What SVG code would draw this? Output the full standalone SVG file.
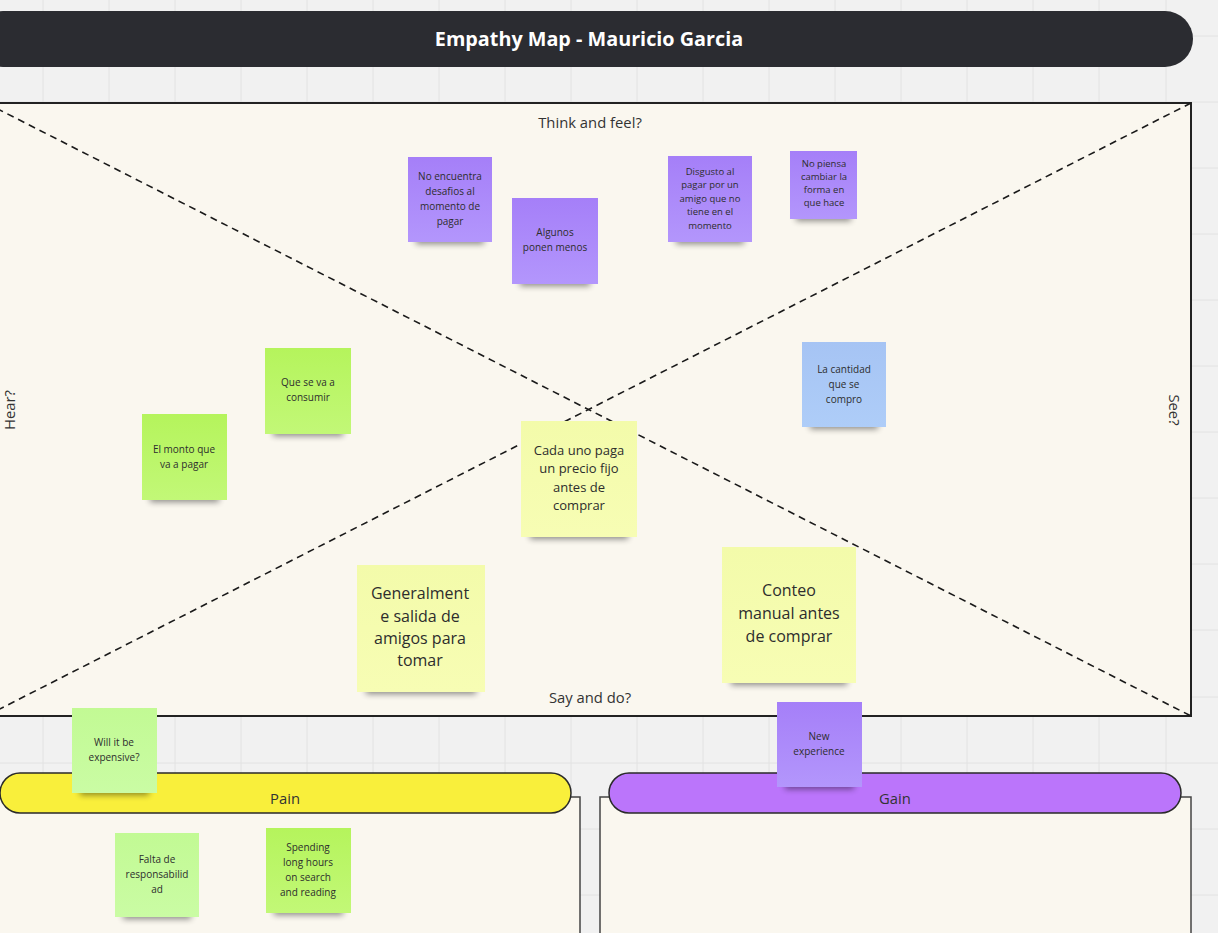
<svg xmlns="http://www.w3.org/2000/svg" width="1218" height="933" viewBox="0 0 1218 933">
<style>
  .t{font-family:"Open Sans","Noto Sans","Liberation Sans",sans-serif;fill:#2d2d2d;text-anchor:middle}
  .s10{font-size:10px}
  .s9{font-size:9.5px}
  .s13{font-size:13px}
  .s16{font-size:16px}
  .lbl{font-family:"Open Sans","Noto Sans","Liberation Sans",sans-serif;fill:#333;font-size:14.8px;text-anchor:middle}
  .grid{stroke:#e2e2e2;stroke-width:1}
  .dash{stroke:#1a1a1a;stroke-width:1.6;stroke-dasharray:7 5;fill:none}
  .frame{fill:#faf7ef;stroke:#444;stroke-width:1.5}
  .shadow{fill:#000;opacity:0.45;filter:url(#blur)}
  .pu{fill:url(#gPu)}
  .gr{fill:url(#gGr)}
  .lg{fill:url(#gLg)}
  .bl{fill:url(#gBl)}
  .ye{fill:url(#gYe)}
</style>
<defs>
  <filter id="blur" x="-20%" y="-100%" width="140%" height="300%"><feGaussianBlur stdDeviation="3"/></filter>
  <linearGradient id="gPu" x1="0" y1="0" x2="0" y2="1"><stop offset="0" stop-color="#a57ff8"/><stop offset="1" stop-color="#b396fc"/></linearGradient>
  <linearGradient id="gGr" x1="0" y1="0" x2="0" y2="1"><stop offset="0" stop-color="#b5f45c"/><stop offset="1" stop-color="#c2f877"/></linearGradient>
  <linearGradient id="gLg" x1="0" y1="0" x2="0" y2="1"><stop offset="0" stop-color="#c2fa94"/><stop offset="1" stop-color="#cafca4"/></linearGradient>
  <linearGradient id="gBl" x1="0" y1="0" x2="0" y2="1"><stop offset="0" stop-color="#a6c4f4"/><stop offset="1" stop-color="#aecdf8"/></linearGradient>
  <linearGradient id="gYe" x1="0" y1="0" x2="0" y2="1"><stop offset="0" stop-color="#f3fbaa"/><stop offset="1" stop-color="#f7fdb4"/></linearGradient>
</defs>

<!-- background + grid -->
<rect x="0" y="0" width="1218" height="933" fill="#f1f1f1"/>
<g id="grid">
  <path class="grid" d="M43 0V933M109 0V933M175 0V933M241 0V933M307 0V933M373 0V933M439 0V933M505 0V933M571 0V933M637 0V933M703 0V933M769 0V933M835 0V933M901 0V933M967 0V933M1033 0V933M1099 0V933M1166 0V933"/>
  <path class="grid" d="M0 36H1218M0 102H1218M0 168H1218M0 234H1218M0 300H1218M0 366H1218M0 432H1218M0 498H1218M0 564H1218M0 630H1218M0 697H1218M0 763H1218M0 829H1218M0 895H1218"/>
</g>

<!-- title -->
<g id="title">
  <rect x="-25" y="11" width="1218" height="56" rx="28" fill="#2b2c31"/>
  <text x="589" y="46" font-family="'Open Sans','Noto Sans','Liberation Sans',sans-serif" font-size="19.8" font-weight="bold" fill="#ffffff" text-anchor="middle">Empathy Map - Mauricio Garcia</text>
</g>

<!-- main frame -->
<g id="empathy-frame">
  <rect x="-14" y="103" width="1205" height="613" fill="#faf7ef" stroke="#222" stroke-width="2"/>
  <text class="lbl" x="590" y="128">Think and feel?</text>
  <text class="lbl" x="590" y="703">Say and do?</text>
  <text class="lbl" transform="translate(15 410) rotate(-90)">Hear?</text>
  <text class="lbl" transform="translate(1169 410) rotate(90)">See?</text>
</g>

<g id="connectors">
  <line class="dash" x1="-14" y1="103" x2="1191" y2="716"/>
  <line class="dash" x1="1191" y1="103" x2="-14" y2="716"/>
</g>

<!-- pain / gain frames -->
<g id="pain">
  <rect class="frame" x="-20" y="797" width="600" height="160"/>
  <rect x="0" y="773" width="571" height="40" rx="20" fill="#f9ef3b" stroke="#2a2a2a" stroke-width="1.5"/>
  <text class="lbl" x="285" y="804" font-size="15.5">Pain</text>
</g>
<g id="gain">
  <rect class="frame" x="600" y="797" width="591" height="160"/>
  <rect x="609" y="773" width="572" height="40" rx="20" fill="#bb75fb" stroke="#2a2a2a" stroke-width="1.5"/>
  <text class="lbl" x="895" y="804" font-size="15.5">Gain</text>
</g>

<!-- sticky notes -->
<g id="note-no-encuentra">
  <rect class="shadow" x="416" y="236" width="68" height="8"/>
  <rect class="pu" x="408" y="157" width="84" height="85"/>
  <text class="t s10"><tspan x="450" y="180">No encuentra</tspan><tspan x="450" y="195">desafios al</tspan><tspan x="450" y="210">momento de</tspan><tspan x="450" y="225">pagar</tspan></text>
</g>
<g id="note-algunos">
  <rect class="shadow" x="520" y="278" width="70" height="8"/>
  <rect class="pu" x="512" y="198" width="86" height="86"/>
  <text class="t s10"><tspan x="555" y="236">Algunos</tspan><tspan x="555" y="251">ponen menos</tspan></text>
</g>
<g id="note-disgusto">
  <rect class="shadow" x="676" y="236" width="68" height="8"/>
  <rect class="pu" x="668" y="156" width="84" height="86"/>
  <text class="t s9"><tspan x="710" y="174.5">Disgusto al</tspan><tspan x="710" y="188">pagar por un</tspan><tspan x="710" y="201.5">amigo que no</tspan><tspan x="710" y="215">tiene en el</tspan><tspan x="710" y="228.5">momento</tspan></text>
</g>
<g id="note-no-piensa">
  <rect class="shadow" x="796" y="213" width="55" height="8"/>
  <rect class="pu" x="790" y="151" width="67" height="68"/>
  <text class="t s9"><tspan x="824" y="166.5">No piensa</tspan><tspan x="824" y="179.5">cambiar la</tspan><tspan x="824" y="192.5">forma en</tspan><tspan x="824" y="206">que hace</tspan></text>
</g>
<g id="note-que-se-va">
  <rect class="shadow" x="273" y="428" width="70" height="8"/>
  <rect class="gr" x="265" y="348" width="86" height="86"/>
  <text class="t s10"><tspan x="308" y="386">Que se va a</tspan><tspan x="308" y="401">consumir</tspan></text>
</g>
<g id="note-el-monto">
  <rect class="shadow" x="150" y="494" width="69" height="8"/>
  <rect class="gr" x="142" y="414" width="85" height="86"/>
  <text class="t s10"><tspan x="184" y="453">El monto que</tspan><tspan x="184" y="468">va a pagar</tspan></text>
</g>
<g id="note-la-cantidad">
  <rect class="shadow" x="810" y="421" width="68" height="8"/>
  <rect class="bl" x="802" y="342" width="84" height="85"/>
  <text class="t s10"><tspan x="844" y="372.5">La cantidad</tspan><tspan x="844" y="387.5">que se</tspan><tspan x="844" y="402.5">compro</tspan></text>
</g>
<g id="note-cada-uno">
  <rect class="shadow" x="530" y="530" width="98" height="9"/>
  <rect class="ye" x="521" y="421" width="116" height="116"/>
  <text class="t s13"><tspan x="579" y="455">Cada uno paga</tspan><tspan x="579" y="473">un precio fijo</tspan><tspan x="579" y="492">antes de</tspan><tspan x="579" y="510">comprar</tspan></text>
</g>
<g id="note-generalmente">
  <rect class="shadow" x="366" y="685" width="110" height="9"/>
  <rect class="ye" x="357" y="565" width="128" height="127"/>
  <text class="t s16"><tspan x="420" y="599">Generalment</tspan><tspan x="420" y="622">e salida de</tspan><tspan x="420" y="644">amigos para</tspan><tspan x="420" y="666">tomar</tspan></text>
</g>
<g id="note-conteo">
  <rect class="shadow" x="731" y="676" width="116" height="9"/>
  <rect class="ye" x="722" y="547" width="134" height="136"/>
  <text class="t s16"><tspan x="789" y="596">Conteo</tspan><tspan x="789" y="619">manual antes</tspan><tspan x="789" y="642">de comprar</tspan></text>
</g>
<g id="note-new-experience">
  <rect class="shadow" x="785" y="781" width="69" height="8"/>
  <rect class="pu" x="777" y="702" width="85" height="85"/>
  <text class="t s10"><tspan x="819" y="740">New</tspan><tspan x="819" y="755">experience</tspan></text>
</g>
<g id="note-will-it-be">
  <rect class="shadow" x="80" y="787" width="69" height="8"/>
  <rect class="lg" x="72" y="708" width="85" height="85"/>
  <text class="t s10"><tspan x="114" y="746">Will it be</tspan><tspan x="114" y="761">expensive?</tspan></text>
</g>
<g id="note-falta">
  <rect class="shadow" x="123" y="911" width="68" height="8"/>
  <rect class="lg" x="115" y="833" width="84" height="84"/>
  <text class="t s10"><tspan x="157" y="863">Falta de</tspan><tspan x="157" y="878">responsabilid</tspan><tspan x="157" y="893">ad</tspan></text>
</g>
<g id="note-spending">
  <rect class="shadow" x="274" y="907" width="69" height="8"/>
  <rect class="gr" x="266" y="828" width="85" height="85"/>
  <text class="t s10"><tspan x="308" y="851">Spending</tspan><tspan x="308" y="866">long hours</tspan><tspan x="308" y="881">on search</tspan><tspan x="308" y="896">and reading</tspan></text>
</g>
</svg>
